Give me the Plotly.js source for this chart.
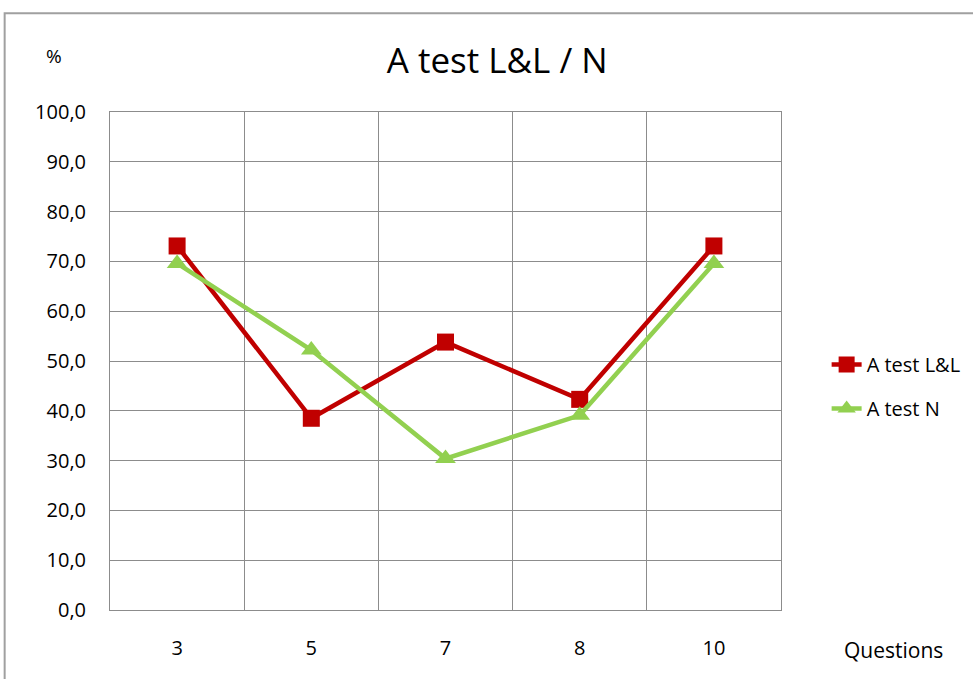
<!DOCTYPE html>
<html>
<head>
<meta charset="utf-8">
<script src="https://cdn.plot.ly/plotly-3.0.1.min.js"></script>
<style>html,body{margin:0;padding:0;background:#fff;}#chart{width:973px;height:679px;}</style>
</head>
<body>
<div id="chart"></div>
<script>
const categories = ["3", "5", "7", "8", "10"];
const seriesNames = ["A test L&L", "A test N"];
const valuesLL = [73.1, 38.5, 53.8, 42.3, 73.1];
const valuesN = [69.6, 52.2, 30.4, 39.1, 69.6];
const yTicks = [0, 10, 20, 30, 40, 50, 60, 70, 80, 90, 100];

const font = "Open Sans, Noto Sans, sans-serif";
const gridColor = "#8c8c8c";

const traces = [
  {
    x: categories, y: valuesLL, name: seriesNames[0], type: "scatter", mode: "lines+markers",
    line: {color: "#C00000", width: 4.5},
    marker: {symbol: "square", size: 17, color: "#C00000"},
    legendgroup: "a"
  },
  {
    x: categories, y: valuesN, name: seriesNames[1], type: "scatter", mode: "lines+markers",
    line: {color: "#92D050", width: 4.5},
    marker: {symbol: "triangle-up", size: 18, color: "#92D050"},
    legendgroup: "b"
  }
];

const layout = {
  width: 973, height: 679,
  margin: {l: 110, r: 192, t: 112, b: 69, autoexpand: false},
  paper_bgcolor: "#fff", plot_bgcolor: "#fff",
  separators: ", ",
  font: {family: font, color: "#000", size: 20},
  title: {text: "A test L&L / N", x: 0.511, xanchor: "center", y: 0.91, yanchor: "middle", font: {family: font, size: 35, color: "#000"}},
  showlegend: true,
  legend: {x: 1.068, y: 0.449, xanchor: "left", yanchor: "middle", font: {family: font, size: 20, color: "#000"}, traceorder: "grouped", tracegroupgap: 15, bgcolor: "rgba(0,0,0,0)"},
  xaxis: {
    type: "category", range: [-0.5, 4.5], tickson: "boundaries", showgrid: true, gridcolor: gridColor, gridwidth: 1,
    showline: true, linecolor: gridColor, linewidth: 1, mirror: true,
    ticks: "", ticklabelstandoff: 20, tickfont: {family: font, size: 20, color: "#000"},
    zeroline: false, fixedrange: true
  },
  yaxis: {
    range: [0, 100], tickvals: yTicks, tickformat: ".1f",
    showgrid: true, gridcolor: gridColor, gridwidth: 1,
    showline: true, linecolor: gridColor, linewidth: 1, mirror: true,
    ticks: "", ticklabelstandoff: 19, tickfont: {family: font, size: 20, color: "#000"},
    zeroline: false, fixedrange: true
  },
  annotations: [
    {text: "%", xref: "paper", yref: "paper", x: -0.083, y: 1.112, xanchor: "center", yanchor: "middle", showarrow: false, font: {family: font, size: 19, color: "#000"}},
    {text: "Questions", xref: "paper", yref: "paper", x: 1.168, y: -0.08, xanchor: "center", yanchor: "middle", showarrow: false, font: {family: font, size: 21, color: "#000"}}
  ],
  shapes: [
    {type: "rect", xref: "paper", yref: "paper", x0: -0.157, x1: 1.4, y0: -0.3, y1: 1.1985, line: {color: "#a0a0a0", width: 2}, fillcolor: "rgba(0,0,0,0)", layer: "below"}
  ]
};

Plotly.newPlot("chart", traces, layout, {displayModeBar: false, staticPlot: true});
</script>
</body>
</html>
